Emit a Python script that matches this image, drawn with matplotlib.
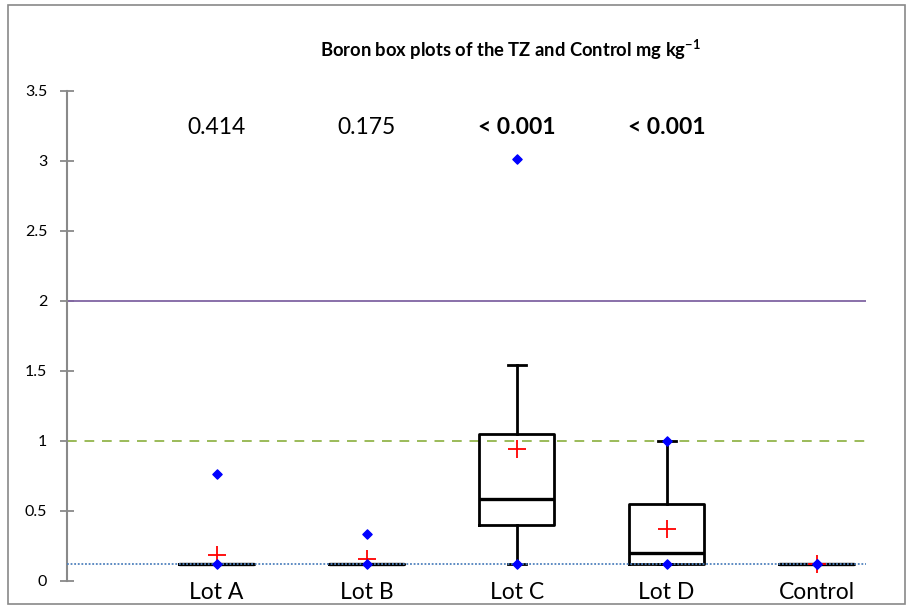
import matplotlib
matplotlib.use('Agg')
import matplotlib.pyplot as plt
from matplotlib.patches import Rectangle

plt.rcParams['font.family'] = ['Lato', 'DejaVu Sans']
plt.rcParams['mathtext.fontset'] = 'custom'
plt.rcParams['mathtext.rm'] = 'Lato'
plt.rcParams['mathtext.bf'] = 'Lato:bold'

categories = ['Lot A', 'Lot B', 'Lot C', 'Lot D', 'Control']
q1 = [0.12, 0.12, 0.40, 0.12, 0.12]
median = [0.12, 0.12, 0.58, 0.20, 0.12]
q3 = [0.12, 0.12, 1.05, 0.55, 0.12]
whisker_low = [0.12, 0.12, 0.12, 0.12, 0.12]
whisker_high = [0.12, 0.12, 1.54, 1.00, 0.12]
means = [0.18, 0.155, 0.94, 0.37, 0.12]
minimum = [0.12, 0.12, 0.12, 0.12, 0.12]
maximum = [0.76, 0.33, 3.01, 1.00, 0.12]
p_values = ['0.414', '0.175', '< 0.001', '< 0.001']
p_bold = [False, False, True, True]
upper_limit = 2.0
lower_limit = 1.0
detection_limit = 0.12

fig = plt.figure(figsize=(9.12, 6.08), dpi=100)
ax = fig.add_axes([0.0731, 0.0449, 0.877, 0.806])

positions = list(range(1, len(categories) + 1))
stats = []
for i in range(len(categories)):
    stats.append(dict(med=median[i], q1=q1[i], q3=q3[i], whislo=whisker_low[i],
                      whishi=whisker_high[i], mean=means[i], fliers=[]))

ax.bxp(stats, positions=positions, widths=0.5, showmeans=True, showfliers=False,
       boxprops=dict(color='black', linewidth=2.0),
       medianprops=dict(color='black', linewidth=2.4),
       whiskerprops=dict(color='black', linewidth=2.0),
       capprops=dict(color='black', linewidth=2.0),
       capwidths=0.12,
       meanprops=dict(marker='+', markeredgecolor='red', markersize=13,
                      markeredgewidth=1.3, zorder=6),
       manage_ticks=False, zorder=3)

ax.axhline(upper_limit, color='#8064A2', linewidth=1.3, zorder=2)
ax.axhline(lower_limit, color='#9BBB59', linewidth=1.4, linestyle=(0, (5, 4)), zorder=2)
ax.axhline(detection_limit, color='#4F81BD', linewidth=1.3, linestyle=(0, (1, 1)), zorder=4)

ax.scatter(positions, minimum, marker='D', color='blue', s=22, zorder=7)
ax.scatter(positions, maximum, marker='D', color='blue', s=22, zorder=7)

for i, p in enumerate(p_values):
    ax.text(positions[i], 3.24, p, ha='center', va='center', fontsize=16.5,
            fontweight='bold' if p_bold[i] else 'normal')

ax.set_xlim(0, 5.333)
ax.set_ylim(0, 3.5)
ax.set_yticks([0, 0.5, 1, 1.5, 2, 2.5, 3, 3.5])
ax.set_yticklabels(['0', '0.5', '1', '1.5', '2', '2.5', '3', '3.5'])
ax.set_xticks(positions)
ax.set_xticklabels(categories, fontsize=16.5)
ax.tick_params(axis='x', length=0, pad=1)
ax.tick_params(axis='y', direction='inout', length=10, color='#898989', width=1.3,
               labelsize=11.5, pad=9)
for side in ['top', 'right', 'bottom']:
    ax.spines[side].set_visible(False)
ax.spines['left'].set_color('#898989')
ax.spines['left'].set_linewidth(1.5)

fig.text(0.56, 0.918, r'Boron box plots of the TZ and Control mg kg$^{\mathbf{-1}}$',
         ha='center', va='center', fontsize=13.2, fontweight='bold')

fig.patches.append(Rectangle((0.009, 0.006), 0.983, 0.986, transform=fig.transFigure,
                             fill=False, edgecolor='#898989', linewidth=1.2))

fig.savefig('out.png', dpi=100)
